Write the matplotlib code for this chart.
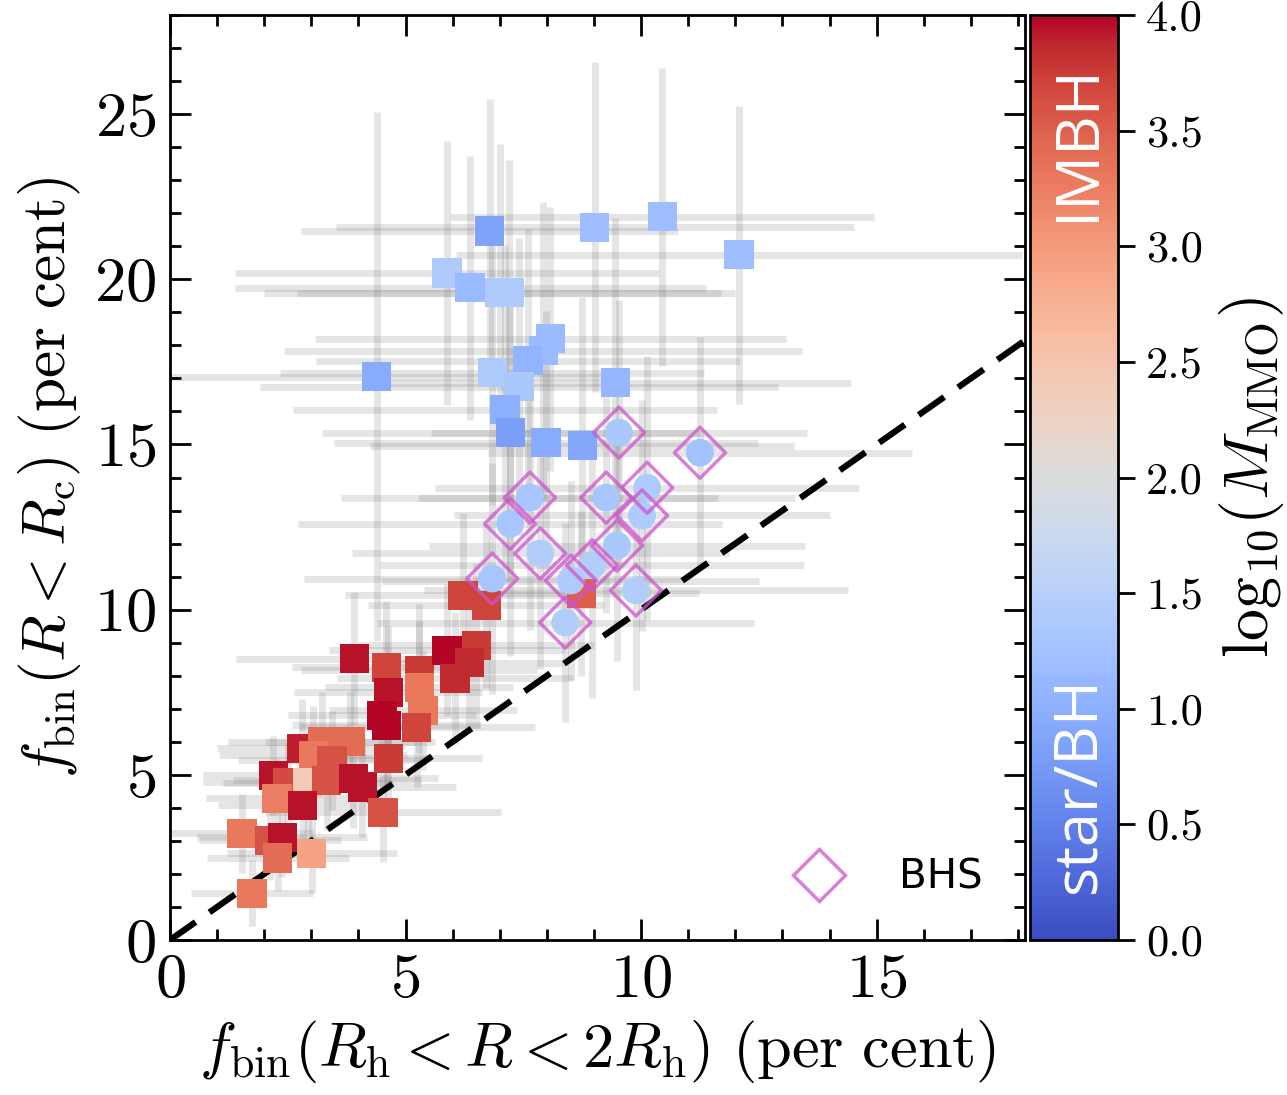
import numpy as np
import matplotlib
matplotlib.use("Agg")
import matplotlib.pyplot as plt
from matplotlib.lines import Line2D

plt.rcParams['font.family'] = 'serif'
plt.rcParams['font.serif'] = ['cmr10']
plt.rcParams['mathtext.fontset'] = 'cm'
plt.rcParams['axes.formatter.use_mathtext'] = True

# ---- data: star/BH systems (blue squares) ----
blue_x = [6.79, 9.02, 10.45, 12.08, 5.88, 6.37, 7.00, 7.20, 4.39, 8.07, 7.92, 7.60, 6.84, 7.41, 9.45, 7.11, 7.22, 7.98, 8.75]
blue_y = [21.46, 21.58, 21.89, 20.74, 20.19, 19.74, 19.6, 19.6, 17.05, 18.2, 17.84, 17.53, 17.17, 16.75, 16.87, 16.05, 15.36, 15.05, 14.96]
blue_c = [0.85, 1.2, 1.2, 1.2, 1.4, 1.15, 1.4, 1.4, 0.95, 1.15, 1.15, 1.05, 1.4, 1.35, 1.1, 1.0, 0.8, 0.95, 0.9]
blue_xerr = [4.0, 5.5, 4.5, 6.0, 4.5, 5.0, 5.0, 4.5, 5.0, 5.0, 5.5, 4.5, 4.5, 5.5, 5.0, 4.5, 4.0, 4.5, 4.5]
blue_yerr = [4.0, 5.0, 4.5, 4.5, 4.0, 4.0, 4.5, 4.0, 8.0, 4.0, 4.5, 4.0, 4.0, 4.5, 5.0, 5.0, 4.5, 4.0, 4.5]

# ---- data: BHS systems (circles with diamonds) ----
bhs_x = [9.53, 11.25, 7.64, 9.26, 10.13, 10.02, 7.22, 7.86, 9.49, 8.96, 8.51, 6.84, 9.89, 8.39]
bhs_y = [15.36, 14.75, 13.39, 13.39, 13.69, 12.85, 12.6, 11.7, 11.94, 11.34, 10.88, 10.94, 10.58, 9.61]
bhs_c = [1.35, 1.25, 1.3, 1.3, 1.4, 1.4, 1.3, 1.45, 1.35, 1.45, 1.4, 1.3, 1.45, 1.45]
bhs_xerr = [4.0, 4.5, 4.0, 4.0, 4.5, 4.0, 4.5, 4.0, 4.0, 4.5, 4.0, 4.0, 4.5, 4.0]
bhs_yerr = [4.0, 3.5, 4.0, 3.5, 4.0, 3.5, 4.0, 3.5, 3.5, 4.0, 3.0, 3.5, 3.0, 3.0]

# ---- data: IMBH systems (red squares) ----
red_x = [6.22, 6.71, 8.73, 3.91, 4.59, 5.29, 5.88, 6.50, 6.35, 6.05, 5.29, 4.63, 4.50, 5.37, 5.24, 4.60,
         2.80, 3.23, 3.04, 3.82, 3.44, 2.19, 2.50, 2.93, 3.33, 3.89, 4.08, 4.63, 2.27, 2.82, 4.52,
         1.53, 2.12, 2.38, 2.29, 3.01, 1.74]
red_y = [10.43, 10.13, 10.49, 8.52, 8.26, 8.16, 8.77, 8.92, 8.40, 7.92, 7.65, 7.50, 6.80, 6.95, 6.44, 6.50,
         5.80, 6.00, 5.59, 6.00, 5.44, 4.99, 4.78, 4.75, 4.84, 4.90, 4.63, 5.50, 4.29, 4.08, 3.87,
         3.23, 3.02, 3.11, 2.48, 2.63, 1.42]
red_c = [3.7, 3.7, 3.5, 3.95, 3.7, 3.75, 4.0, 3.75, 3.85, 3.85, 3.3, 3.95, 4.0, 3.3, 3.7, 4.0,
         3.9, 3.4, 3.3, 3.4, 3.6, 3.95, 3.65, 2.4, 3.6, 3.95, 3.95, 3.75, 3.25, 3.95, 3.6,
         3.3, 3.6, 3.95, 3.4, 2.9, 3.3]
red_xerr = [2.5, 2.5, 2.5, 2.5, 2.0, 2.5, 2.5, 2.5, 2.0, 2.5, 2.0, 2.0, 2.0, 2.0, 2.5, 2.0,
            1.8, 2.0, 2.0, 1.8, 2.0, 1.5, 1.8, 1.8, 2.0, 1.8, 2.0, 2.0, 1.5, 1.8, 2.5,
            1.5, 1.5, 1.8, 1.5, 1.8, 1.3]
red_yerr = [2.5, 2.5, 2.5, 2.0, 2.0, 2.0, 2.0, 2.5, 2.0, 2.0, 2.0, 2.0, 1.5, 1.8, 1.8, 1.8,
            1.5, 1.5, 1.5, 1.5, 1.5, 1.2, 1.2, 1.5, 1.5, 1.5, 1.5, 1.5, 1.2, 1.2, 1.5,
            1.2, 1.2, 1.2, 1.0, 1.2, 1.0]

xticks = [0, 5, 10, 15]
yticks = [0, 5, 10, 15, 20, 25]
cticks = [0.0, 0.5, 1.0, 1.5, 2.0, 2.5, 3.0, 3.5, 4.0]

fig = plt.figure(figsize=(12.87, 10.95), dpi=100)
ax = fig.add_axes([170/1287, 155/1095, 855/1287, 925/1095])
cax = fig.add_axes([1030/1287, 155/1095, 88/1287, 925/1095])

cmap = plt.get_cmap('coolwarm')
norm = matplotlib.colors.Normalize(vmin=0, vmax=4)

ebkw = dict(fmt='none', ecolor='0.5', alpha=0.2, elinewidth=5, capsize=0, zorder=1)
ax.errorbar(red_x, red_y, xerr=red_xerr, yerr=red_yerr, **ebkw)
ax.errorbar(blue_x, blue_y, xerr=blue_xerr, yerr=blue_yerr, **ebkw)
ax.errorbar(bhs_x, bhs_y, xerr=bhs_xerr, yerr=bhs_yerr, **ebkw)

ax.plot([0, 30], [0, 30], color='black', lw=4.5, dashes=(5, 2.7), zorder=2)

sq = 21 ** 2
ax.scatter(red_x, red_y, c=red_c, cmap=cmap, norm=norm, marker='s', s=sq, edgecolors='none', zorder=3)
ax.scatter(blue_x, blue_y, c=blue_c, cmap=cmap, norm=norm, marker='s', s=sq, edgecolors='none', zorder=3)
ax.scatter(bhs_x, bhs_y, c=bhs_c, cmap=cmap, norm=norm, marker='o', s=20 ** 2, edgecolors='none', zorder=4)
ax.scatter(bhs_x, bhs_y, marker='D', s=26 ** 2, facecolors='none', edgecolors='#cc55cc', alpha=0.75, linewidths=2.5, zorder=5)

ax.set_xlim(0, 18.15)
ax.set_ylim(0, 28)
ax.set_xticks(xticks)
ax.set_yticks(yticks)
ax.xaxis.set_minor_locator(matplotlib.ticker.MultipleLocator(1))
ax.yaxis.set_minor_locator(matplotlib.ticker.MultipleLocator(1))
ax.tick_params(which='both', direction='in', top=True, right=True, width=2)
ax.tick_params(which='major', length=15, labelsize=45, pad=10)
ax.tick_params(which='minor', length=8)
for s in ax.spines.values():
    s.set_linewidth(2)

ax.set_xlabel(r'$f_{\rm bin}(R_{\rm h} < R < 2R_{\rm h})\ ({\rm per\ cent})$', fontsize=45, labelpad=6)
ax.set_ylabel(r'$f_{\rm bin}(R < R_{\rm c})\ ({\rm per\ cent})$', fontsize=44, labelpad=8)

leg_handle = Line2D([], [], marker='D', linestyle='none', markersize=26, markerfacecolor='none',
                    markeredgecolor='#cc55cc', alpha=0.75, markeredgewidth=2.5)
ax.legend([leg_handle], ['BHS'], loc='lower right', frameon=False,
          prop={'family': 'DejaVu Sans', 'size': 29}, handletextpad=1.0, borderaxespad=0.65)

sm = matplotlib.cm.ScalarMappable(norm=norm, cmap=cmap)
cb = fig.colorbar(sm, cax=cax, ticks=cticks)
cb.ax.set_yticklabels([f'{t:.1f}' for t in cticks])
cb.ax.tick_params(labelsize=32, length=12, width=2, direction='out', pad=8)
cb.outline.set_linewidth(2)
cb.set_label(r'${\rm log}_{10}(M_{\rm MMO})$', fontsize=46, labelpad=10)

cax.text(0.55, 0.862, 'IMBH', transform=cax.transAxes, rotation=90, color='white',
         fontsize=44, ha='center', va='center', family=['Open Sans', 'DejaVu Sans'])
cax.text(0.55, 0.168, 'star/BH', transform=cax.transAxes, rotation=90, color='white',
         fontsize=44, ha='center', va='center', family=['Open Sans', 'DejaVu Sans'])

fig.savefig('out.png', dpi=100)
